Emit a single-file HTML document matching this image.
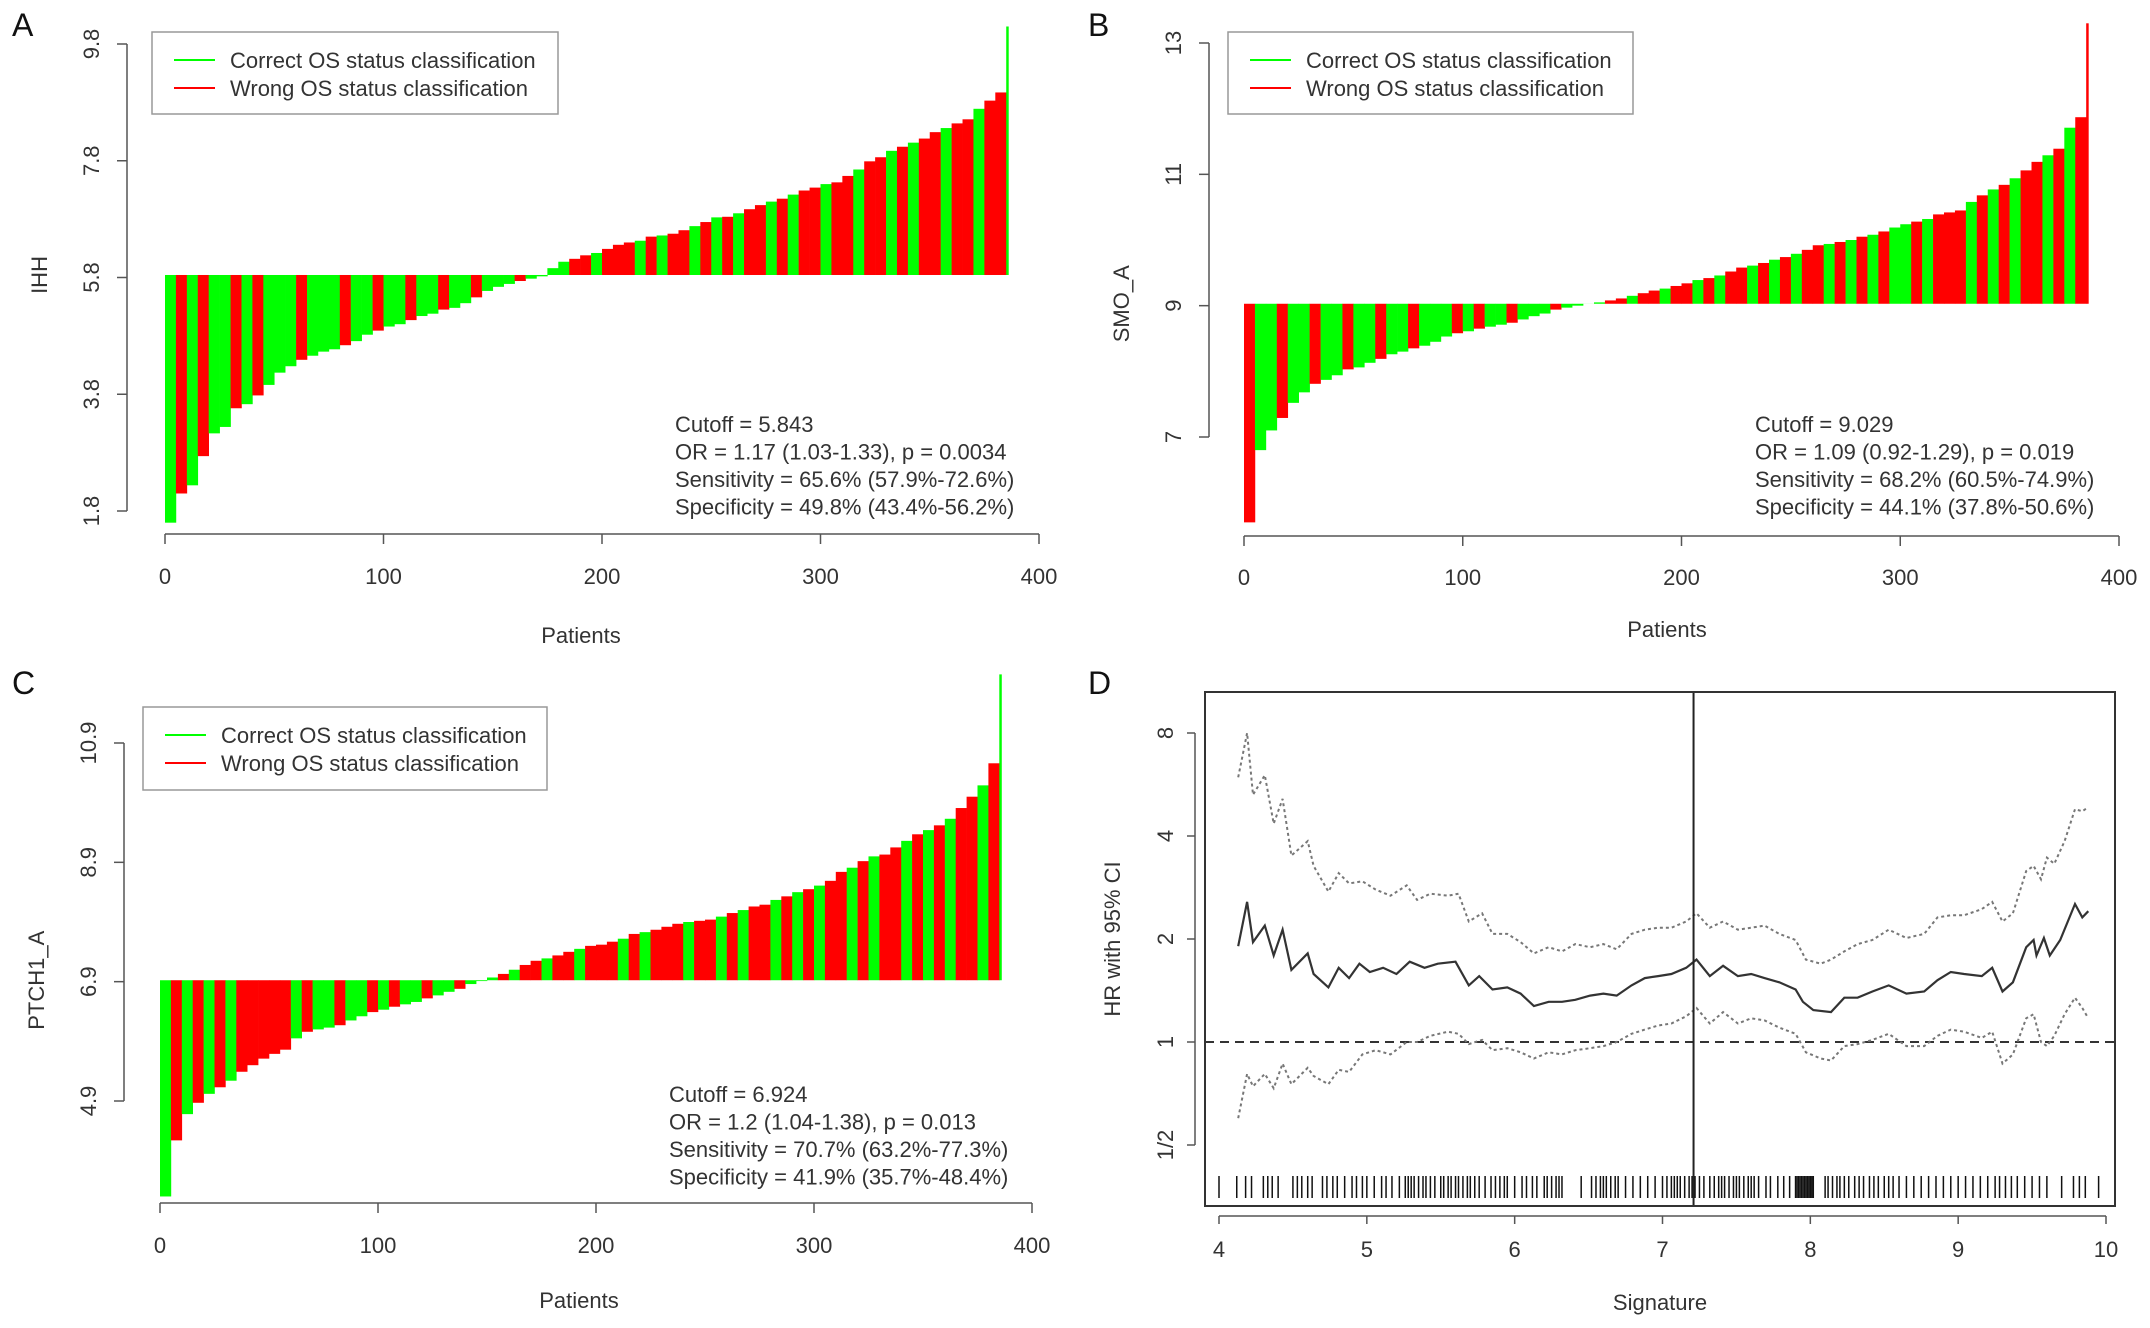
<!DOCTYPE html>
<html><head><meta charset="utf-8">
<style>
html,body{margin:0;padding:0;background:#fff;}
svg{display:block;font-family:"Liberation Sans",Arial,sans-serif;}
</style></head>
<body>
<svg id="fig" width="2150" height="1328" viewBox="0 0 2150 1328" xmlns="http://www.w3.org/2000/svg"></svg>
<script>
// ---------- data ----------
const binStarts = [0,5,10,15,20,25,30,35,40,45,50,55,60,65,70,75,80,85,90,95,100,105,110,115,120,125,130,135,140,145,150,155,160,165,170,175,180,185,190,195,200,205,210,215,220,225,230,235,240,245,250,255,260,265,270,275,280,285,290,295,300,305,310,315,320,325,330,335,340,345,350,355,360,365,370,375,380,385];
const ihhValues = [1.6,2.1,2.24,2.74,3.13,3.24,3.56,3.63,3.78,3.96,4.17,4.28,4.39,4.46,4.53,4.57,4.64,4.71,4.82,4.89,4.96,5.0,5.07,5.14,5.18,5.25,5.28,5.36,5.46,5.57,5.64,5.69,5.74,5.78,5.82,5.96,6.07,6.12,6.18,6.22,6.29,6.36,6.4,6.43,6.5,6.52,6.55,6.61,6.68,6.75,6.83,6.84,6.9,6.97,7.04,7.1,7.15,7.22,7.29,7.34,7.4,7.43,7.54,7.65,7.79,7.86,7.97,8.04,8.11,8.18,8.29,8.36,8.44,8.51,8.69,8.83,8.97,10.1];
const ihhClass = "GRGRGGRGRG"+"GGRGGGRGGR"+"GGRGGRGGRG"+"GGRGGGGRRG"+"RRRGRGRRGR"+"GRGRRGRGRR"+"GRRGRRGRGR"+"RGRRGRRG";
const smoValues = [5.7,6.8,7.1,7.29,7.52,7.68,7.81,7.87,7.94,8.03,8.06,8.13,8.19,8.26,8.3,8.35,8.39,8.45,8.53,8.58,8.61,8.65,8.68,8.71,8.74,8.79,8.84,8.88,8.94,8.97,9.0,9.03,9.05,9.08,9.11,9.15,9.19,9.23,9.26,9.3,9.34,9.39,9.42,9.46,9.52,9.58,9.61,9.65,9.7,9.74,9.79,9.85,9.92,9.94,9.97,10.0,10.05,10.08,10.13,10.19,10.24,10.28,10.32,10.39,10.42,10.45,10.58,10.68,10.77,10.84,10.94,11.06,11.19,11.29,11.39,11.71,11.87,13.3];
const smoClass = "RGGRGGRGGR"+"GGRGGRGGGR"+"GRGGRGGGRG"+"GGGRRGRRGR"+"RGRGRRGRGR"+"GRRGRGRGRG"+"GRGRRRGRGR"+"GRRGRGRR";
const ptchValues = [3.3,4.24,4.68,4.87,5.02,5.13,5.24,5.39,5.5,5.61,5.69,5.76,5.95,6.06,6.1,6.13,6.17,6.25,6.32,6.39,6.43,6.48,6.52,6.56,6.62,6.67,6.73,6.78,6.86,6.91,6.97,7.03,7.1,7.18,7.25,7.29,7.34,7.4,7.45,7.5,7.52,7.57,7.62,7.7,7.73,7.77,7.82,7.87,7.9,7.92,7.94,7.99,8.05,8.1,8.16,8.19,8.27,8.33,8.4,8.45,8.51,8.59,8.74,8.81,8.92,9.0,9.03,9.15,9.26,9.37,9.44,9.52,9.63,9.81,10.0,10.19,10.56,12.05];
const ptchClass = "GRGRGRGRRR"+"RRGRGGRGGR"+"GRGGRGGRGG"+"GRGRRGRRGR"+"RRGRGRRRGR"+"RGRGRRGRGR"+"GRRGRGRRGR"+"GRGRRGRG";
const nPatients = 386;

// Panel D
const sigX = [4.13,4.19,4.23,4.31,4.37,4.43,4.49,4.6,4.64,4.74,4.81,4.88,4.95,5.02,5.11,5.2,5.29,5.39,5.48,5.6,5.69,5.76,5.85,5.95,6.04,6.13,6.23,6.32,6.41,6.51,6.6,6.69,6.79,6.88,6.97,7.06,7.16,7.23,7.32,7.41,7.51,7.6,7.69,7.79,7.9,7.95,8.02,8.14,8.23,8.32,8.42,8.53,8.65,8.77,8.86,8.95,9.04,9.16,9.23,9.3,9.37,9.46,9.51,9.53,9.58,9.62,9.69,9.79,9.84,9.88];
const hrLog2 = [0.93,1.36,0.97,1.13,0.84,1.09,0.70,0.86,0.66,0.53,0.72,0.62,0.76,0.68,0.72,0.66,0.78,0.72,0.76,0.78,0.55,0.64,0.51,0.53,0.47,0.35,0.39,0.39,0.41,0.45,0.47,0.45,0.55,0.62,0.64,0.66,0.72,0.80,0.64,0.74,0.64,0.66,0.62,0.58,0.51,0.39,0.31,0.29,0.43,0.43,0.49,0.55,0.47,0.49,0.60,0.68,0.66,0.64,0.72,0.49,0.58,0.92,0.99,0.84,1.01,0.84,0.99,1.34,1.21,1.27];
const ciX = [4.13,4.19,4.23,4.31,4.37,4.43,4.49,4.6,4.64,4.74,4.81,4.88,4.97,5.06,5.16,5.27,5.34,5.43,5.55,5.62,5.69,5.78,5.85,5.95,6.04,6.13,6.23,6.32,6.41,6.51,6.6,6.69,6.79,6.88,6.97,7.06,7.16,7.23,7.32,7.41,7.51,7.6,7.69,7.79,7.9,7.97,8.07,8.14,8.23,8.32,8.42,8.53,8.65,8.77,8.86,8.95,9.04,9.16,9.23,9.3,9.37,9.46,9.51,9.56,9.6,9.65,9.72,9.79,9.84,9.88];
const upperLog2 = [2.57,3.0,2.40,2.59,2.12,2.36,1.81,1.95,1.71,1.46,1.64,1.54,1.56,1.48,1.42,1.52,1.38,1.44,1.42,1.44,1.17,1.25,1.05,1.05,0.97,0.86,0.92,0.88,0.95,0.92,0.95,0.90,1.05,1.09,1.11,1.11,1.17,1.25,1.11,1.17,1.09,1.11,1.13,1.05,0.99,0.80,0.76,0.80,0.88,0.95,0.99,1.09,1.01,1.05,1.21,1.23,1.23,1.29,1.36,1.17,1.25,1.66,1.71,1.58,1.79,1.73,1.95,2.26,2.24,2.28];
const lowerLog2 = [-0.74,-0.31,-0.43,-0.31,-0.45,-0.21,-0.41,-0.25,-0.33,-0.41,-0.27,-0.29,-0.12,-0.08,-0.12,0.0,0.0,0.06,0.10,0.08,-0.02,0.02,-0.08,-0.06,-0.10,-0.16,-0.10,-0.12,-0.08,-0.06,-0.04,0.0,0.08,0.12,0.16,0.18,0.25,0.33,0.18,0.29,0.18,0.23,0.21,0.14,0.08,-0.10,-0.16,-0.18,-0.04,-0.02,0.02,0.08,-0.04,-0.04,0.06,0.12,0.10,0.04,0.10,-0.21,-0.12,0.23,0.27,0.0,-0.04,0.06,0.27,0.43,0.33,0.23];
const rugX = [4.0,4.12,4.18,4.22,4.3,4.33,4.36,4.4,4.5,4.53,4.56,4.6,4.63,4.7,4.73,4.77,4.8,4.85,4.9,4.93,4.97,5.0,5.05,5.1,5.13,5.17,5.22,5.26,5.28,5.3,5.32,5.35,5.38,5.4,5.43,5.46,5.5,5.52,5.55,5.57,5.6,5.62,5.65,5.68,5.7,5.73,5.76,5.8,5.84,5.87,5.9,5.93,5.95,6.0,6.05,6.08,6.12,6.15,6.2,6.22,6.25,6.28,6.3,6.32,6.45,6.52,6.55,6.58,6.6,6.62,6.65,6.68,6.7,6.75,6.8,6.85,6.9,6.95,7.0,7.03,7.06,7.08,7.1,7.12,7.15,7.18,7.2,7.22,7.25,7.28,7.32,7.35,7.38,7.4,7.42,7.45,7.48,7.5,7.52,7.55,7.58,7.6,7.62,7.65,7.7,7.73,7.78,7.82,7.86,7.9,7.91,7.92,7.93,7.94,7.95,7.96,7.97,7.98,7.99,8.0,8.01,8.02,8.1,8.12,8.15,8.18,8.2,8.23,8.26,8.3,8.33,8.36,8.4,8.43,8.46,8.5,8.53,8.56,8.6,8.65,8.7,8.75,8.8,8.85,8.9,8.95,9.0,9.05,9.1,9.15,9.2,9.25,9.28,9.32,9.36,9.4,9.45,9.5,9.55,9.6,9.7,9.78,9.82,9.86,9.95];
const cutoffSig = 7.21;
const xTicksPat = [0,100,200,300,400];
const xTicksSig = [4,5,6,7,8,9,10];
const yTicksHR = [-1,0,1,2,3];
const yTickLabelsHR = ["1/2","1","2","4","8"];

// ---------- helpers ----------
const NS = "http://www.w3.org/2000/svg";
const svg = document.getElementById('fig');
function mk(tag, attrs, parent){
  const e = document.createElementNS(NS, tag);
  for (const k in attrs) e.setAttribute(k, attrs[k]);
  (parent||svg).appendChild(e);
  return e;
}
function txt(s, attrs, parent){ const e = mk('text', attrs, parent); e.textContent = s; return e; }
const AX = '#555', TX = '#333';

function barPanel(cfg){
  const g = mk('g', {});
  
  
  const xs = p => cfg.x0 + (cfg.x400 - cfg.x0) * p / 400;
  const ys = v => cfg.yA + (v - cfg.vA) * (cfg.yB - cfg.yA) / (cfg.vB - cfg.vA);
  const base = ys(cfg.cut);
  for (let i = 0; i < cfg.values.length; i++){
    const s = binStarts[i], e = Math.min(nPatients, (i+1 < binStarts.length ? binStarts[i+1] : nPatients));
    const v = cfg.values[i];
    const yv = ys(v);
    const r = mk('rect', {x: xs(s), y: Math.min(yv, base), width: xs(e) - xs(s) + 0.3, height: Math.abs(base - yv),
      fill: cfg.cls[i] === 'R' ? '#ff0000' : '#00ff00'}, g);
    
    
  }
  const xa = mk('g', {}, g);
  
  
  mk('line', {x1: xs(0), x2: xs(400), y1: cfg.axY, y2: cfg.axY, stroke: AX, 'stroke-width': 1.5}, xa);
  xTicksPat.forEach(t => {
    mk('line', {x1: xs(t), x2: xs(t), y1: cfg.axY, y2: cfg.axY + 10, stroke: AX, 'stroke-width': 1.5}, xa);
    const l = txt(String(t), {x: xs(t), y: cfg.axY + cfg.lblOff, 'font-size': 22, 'text-anchor': 'middle', fill: TX}, xa);
    
    
  });
  const xt = txt('Patients', {x: cfg.titleX, y: cfg.axY + cfg.titleOff, 'font-size': 22, 'text-anchor': 'middle', fill: TX}, g);
  
  
  const ya = mk('g', {}, g);
  
  
  mk('line', {x1: cfg.yAxX, x2: cfg.yAxX, y1: ys(cfg.ticks[0]), y2: ys(cfg.ticks[cfg.ticks.length-1]), stroke: AX, 'stroke-width': 1.5}, ya);
  cfg.ticks.forEach(t => {
    const y = ys(t);
    mk('line', {x1: cfg.yAxX - 10, x2: cfg.yAxX, y1: y, y2: y, stroke: AX, 'stroke-width': 1.5}, ya);
    const l = txt(String(t), {x: 0, y: 0, 'font-size': 22, 'text-anchor': 'middle', fill: TX,
      transform: `translate(${cfg.yAxX - 28},${y}) rotate(-90)`}, ya);
    
    
  });
  const yt = txt(cfg.ylab, {x: 0, y: 0, 'font-size': 22, 'text-anchor': 'middle', fill: TX,
    transform: `translate(${cfg.yAxX - 80},${base}) rotate(-90)`}, g);
  
  
  const lg = mk('g', {}, g);
  
  
  const L = cfg.leg;
  mk('rect', {x: L.x, y: L.y, width: L.w, height: L.h, fill: '#fff', stroke: '#999', 'stroke-width': 1.5}, lg);
  [['Correct OS status classification', '#00ff00'], ['Wrong OS status classification', '#ff0000']].forEach((d, k) => {
    const cy = L.y + 28 + k * 28;
    const le = mk('g', {}, lg);
    
    
    mk('line', {x1: L.x + 22, x2: L.x + 63, y1: cy, y2: cy, stroke: d[1], 'stroke-width': 2}, le);
    txt(d[0], {x: L.x + 78, y: cy + 8, 'font-size': 22, fill: TX}, le);
  });
  const st = mk('g', {}, g);
  
  
  cfg.stats.forEach((s, k) => txt(s, {x: cfg.statX, y: cfg.statY + k * 27.5, 'font-size': 22, fill: TX}, st));
  const pl = txt(cfg.letter, {x: cfg.letterX, y: cfg.letterY, 'font-size': 32, fill: '#111'}, g);
  
  
}

barPanel({name: 'panel-a-ihh', letter: 'A', letterX: 12, letterY: 36, values: ihhValues, cls: ihhClass,
  x0: 165, x400: 1039, vA: 9.8, yA: 44, vB: 1.8, yB: 511, cut: 5.843, axY: 534, yAxX: 127,
  lblOff: 50, titleOff: 109, titleX: 581,
  ticks: [1.8, 3.8, 5.8, 7.8, 9.8], ylab: 'IHH',
  leg: {x: 152, y: 32, w: 406, h: 82},
  statX: 675, statY: 432,
  stats: ['Cutoff = 5.843', 'OR = 1.17 (1.03-1.33), p = 0.0034', 'Sensitivity = 65.6% (57.9%-72.6%)', 'Specificity = 49.8% (43.4%-56.2%)']});

barPanel({name: 'panel-b-smo', letter: 'B', letterX: 1088, letterY: 36, values: smoValues, cls: smoClass,
  x0: 1244, x400: 2119, vA: 13, yA: 43, vB: 7, yB: 437, cut: 9.029, axY: 536, yAxX: 1209,
  lblOff: 49, titleOff: 101, titleX: 1667,
  ticks: [7, 9, 11, 13], ylab: 'SMO_A',
  leg: {x: 1228, y: 32, w: 405, h: 82},
  statX: 1755, statY: 432,
  stats: ['Cutoff = 9.029', 'OR = 1.09 (0.92-1.29), p = 0.019', 'Sensitivity = 68.2% (60.5%-74.9%)', 'Specificity = 44.1% (37.8%-50.6%)']});

barPanel({name: 'panel-c-ptch1', letter: 'C', letterX: 12, letterY: 694, values: ptchValues, cls: ptchClass,
  x0: 160, x400: 1032, vA: 10.9, yA: 743, vB: 4.9, yB: 1101, cut: 6.924, axY: 1203, yAxX: 124,
  lblOff: 50, titleOff: 105, titleX: 579,
  ticks: [4.9, 6.9, 8.9, 10.9], ylab: 'PTCH1_A',
  leg: {x: 143, y: 707, w: 404, h: 83},
  statX: 669, statY: 1102,
  stats: ['Cutoff = 6.924', 'OR = 1.2 (1.04-1.38), p = 0.013', 'Sensitivity = 70.7% (63.2%-77.3%)', 'Specificity = 41.9% (35.7%-48.4%)']});

// ---------- Panel D ----------
(function(){
  const g = mk('g', {});
  
  
  const box = {l: 1205, r: 2115, t: 692, b: 1206};
  const xs = v => 1219 + (v - 4) * (2106 - 1219) / 6;
  const ys = l => 1042 - l * 103;
  const pl = txt('D', {x: 1088, y: 694, 'font-size': 32, fill: '#111'}, g);
  
  
  const ref = mk('line', {x1: box.l, x2: box.r, y1: ys(0), y2: ys(0), stroke: '#333', 'stroke-width': 2, 'stroke-dasharray': '9,6'}, g);
  
  
  const path = (xsArr, ysArr) => xsArr.map((x, i) => (i ? 'L' : 'M') + xs(x).toFixed(1) + ',' + ys(ysArr[i]).toFixed(1)).join(' ');
  const up = mk('path', {d: path(ciX, upperLog2), fill: 'none', stroke: '#777', 'stroke-width': 2, 'stroke-dasharray': '3,3'}, g);
  
  
  const lo = mk('path', {d: path(ciX, lowerLog2), fill: 'none', stroke: '#777', 'stroke-width': 2, 'stroke-dasharray': '3,3'}, g);
  
  
  const hr = mk('path', {d: path(sigX, hrLog2), fill: 'none', stroke: '#333', 'stroke-width': 2.2}, g);
  
  
  const rug = mk('g', {}, g);
  
  
  rugX.forEach(v => mk('line', {x1: xs(v), x2: xs(v), y1: 1176, y2: 1198, stroke: '#111', 'stroke-width': 1.5}, rug));
  const cl = mk('line', {x1: xs(cutoffSig), x2: xs(cutoffSig), y1: box.t, y2: box.b, stroke: '#222', 'stroke-width': 2}, g);
  
  
  const fr = mk('rect', {x: box.l, y: box.t, width: box.r - box.l, height: box.b - box.t, fill: 'none', stroke: '#333', 'stroke-width': 2}, g);
  
  
  const xa = mk('g', {}, g);
  
  
  mk('line', {x1: xs(4), x2: xs(10), y1: box.b + 10, y2: box.b + 10, stroke: AX, 'stroke-width': 1.5}, xa);
  xTicksSig.forEach(t => {
    mk('line', {x1: xs(t), x2: xs(t), y1: box.b + 10, y2: box.b + 18, stroke: AX, 'stroke-width': 1.5}, xa);
    txt(String(t), {x: xs(t), y: 1257, 'font-size': 22, 'text-anchor': 'middle', fill: TX}, xa);
  });
  const xt = txt('Signature', {x: 1660, y: 1310, 'font-size': 22, 'text-anchor': 'middle', fill: TX}, g);
  
  
  const ya = mk('g', {}, g);
  
  
  mk('line', {x1: box.l - 10, x2: box.l - 10, y1: ys(-1), y2: ys(3), stroke: AX, 'stroke-width': 1.5}, ya);
  yTicksHR.forEach((t, i) => {
    mk('line', {x1: box.l - 18, x2: box.l - 10, y1: ys(t), y2: ys(t), stroke: AX, 'stroke-width': 1.5}, ya);
    txt(yTickLabelsHR[i], {x: 0, y: 0, 'font-size': 22, 'text-anchor': 'middle', fill: TX,
      transform: `translate(${box.l - 32},${ys(t)}) rotate(-90)`}, ya);
  });
  const yt = txt('HR with 95% CI', {x: 0, y: 0, 'font-size': 22, 'text-anchor': 'middle', fill: TX,
    transform: `translate(1120,${ys(1)}) rotate(-90)`}, g);
  
  
})();
</script>
</body></html>
